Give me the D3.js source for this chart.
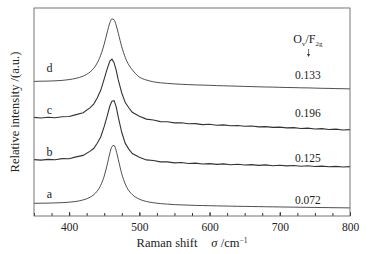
<!DOCTYPE html>
<html>
<head>
<meta charset="utf-8">
<script src="https://cdn.jsdelivr.net/npm/d3@7"></script>
<style>
  body { margin: 0; background: #fff; }
  text { font-family: "Liberation Serif", "Times New Roman", serif; fill: #222; }
</style>
</head>
<body>
<div id="chart"></div>
<script>
// Raman shift sample points (cm-1)
const shifts = [350, 360, 370, 380, 390, 400, 410, 420, 430, 435, 440, 445, 450, 454, 458, 461, 464, 467, 470, 475, 480, 485, 490,
  500, 510, 520, 530, 540, 550, 560, 570, 580, 590, 600, 610, 620, 630, 640, 650, 660, 670, 680, 690, 700,
  710, 720, 730, 740, 750, 760, 770, 780, 790, 800];

// Intensities (a.u., already offset like the stacked plot)
const specA = [12.7, 12.8, 12.9, 13.1, 13.35, 13.8, 14.6, 16.1, 18.8, 21.2, 24.9, 30.7, 39.9, 50.6, 62.7, 69.5, 70.6, 65.4, 56.6, 42.1, 31.9, 25.4, 21.4,
  16.8, 14.55, 13.25, 12.4, 11.85, 11.4, 11.1, 10.85, 10.6, 10.45, 10.3, 10.1, 10.0, 9.85, 9.7, 9.6, 9.5, 9.4, 9.25, 9.15, 9.05,
  8.95, 8.85, 8.75, 8.65, 8.55, 8.45, 8.37, 8.28, 8.2, 8.1];
const specB = [56.4, 55.9, 56.6, 56.3, 57.4, 57.3, 59.1, 60.6, 64.9, 67.5, 72.7, 79.0, 89.6, 99.3, 110.0, 114.9, 115.4, 109.4, 98.8, 83.5, 72.6, 66.9, 62.4,
  58.8, 56.1, 55.5, 54.1, 54.1, 53.1, 53.5, 52.5, 52.9, 52.0, 52.4, 51.6, 52.1, 51.3, 51.7, 51.0, 51.4, 50.6, 51.1, 50.3, 50.8,
  50.1, 50.5, 49.8, 50.2, 49.5, 49.9, 49.3, 49.6, 49.0, 49.4];
const specC = [98.6, 98.0, 98.7, 98.3, 99.3, 99.5, 101.4, 103.2, 108.4, 111.9, 118.0, 125.7, 137.2, 146.7, 155.0, 156.8, 153.3, 145.8, 136.1, 123.0, 113.4, 108.2, 103.7,
  99.8, 96.9, 96.0, 94.4, 94.3, 93.1, 93.3, 92.2, 92.4, 91.4, 91.7, 90.8, 91.1, 90.3, 90.5, 89.7, 90.0, 89.1, 89.4, 88.6, 88.9,
  88.1, 88.4, 87.5, 87.9, 87.0, 87.4, 86.5, 86.9, 86.0, 86.4];
const specD = [134.6, 134.8, 134.9, 135.2, 135.6, 136.4, 137.7, 139.9, 144.1, 147.7, 153.0, 160.8, 172.0, 183.0, 193.1, 197.1, 196.2, 190.8, 182.8, 169.1, 158.5, 151.1, 146.1,
  139.0, 136.0, 134.2, 133.2, 132.6, 132.1, 131.7, 131.4, 131.1, 130.9, 130.7, 130.4, 130.2, 130.0, 129.8, 129.6, 129.4, 129.2, 129.0, 128.9, 128.7,
  128.5, 128.4, 128.2, 128.1, 127.9, 127.7, 127.6, 127.4, 127.3, 127.1];

const sampleNames = ['a', 'b', 'c', 'd'];
const ratios = ['0.072', '0.125', '0.196', '0.133'];
const spectra = [specA, specB, specC, specD];
// where the letter / ratio labels sit (intensity units)
const letterPos = [18, 60, 102, 144];
const ratioPos = [12, 54, 99, 137];

const xTicks = [400, 500, 600, 700, 800];

const width = 371, height = 254;
const margin = { top: 8, right: 21, bottom: 38, left: 34 };
const w = width - margin.left - margin.right;
const h = height - margin.top - margin.bottom;

const svg = d3.select('#chart').append('svg')
  .attr('width', width)
  .attr('height', height);

const x = d3.scaleLinear().domain([350, 800]).range([0, w]);
const y = d3.scaleLinear().domain([0, 208]).range([h, 0]);

const g = svg.append('g').attr('transform', `translate(${margin.left},${margin.top})`);

// curves: smooth ones (a, d) and noisy ones (b, c)
const smoothLine = d3.line()
  .x((d, i) => x(shifts[i]))
  .y(d => y(d))
  .curve(d3.curveMonotoneX);
const noisyLine = d3.line()
  .x((d, i) => x(shifts[i]))
  .y(d => y(d));

g.selectAll('path.spec')
  .data(spectra)
  .enter()
  .append('path')
  .attr('class', 'spec')
  .attr('d', (d, i) => (i === 1 || i === 2) ? noisyLine(d) : smoothLine(d))
  .attr('fill', 'none')
  .attr('stroke', (d, i) => (i === 1 || i === 2) ? '#333' : '#222')
  .attr('stroke-width', (d, i) => (i === 1 || i === 2) ? 1.1 : 0.8);

// bottom axis, ticks inward
const minorTicks = d3.range(350, 801, 25);
g.append('g')
  .attr('transform', `translate(0,${h})`)
  .call(d3.axisBottom(x).tickValues(minorTicks).tickSize(-3).tickFormat(''))
  .call(a => a.select('.domain').remove())
  .call(a => a.selectAll('line').attr('stroke', '#333'));

g.append('g')
  .attr('transform', `translate(0,${h})`)
  .call(d3.axisBottom(x).tickValues(xTicks).tickSize(-4).tickPadding(7).tickFormat(d3.format('d')))
  .call(a => a.select('.domain').remove())
  .call(a => a.selectAll('line').attr('stroke', '#333'))
  .call(a => a.selectAll('text').style('font-family', '"Liberation Serif", serif').style('font-size', '11.5px').attr('fill', '#222'));

// frame
g.append('rect')
  .attr('width', w)
  .attr('height', h)
  .attr('fill', 'none')
  .attr('stroke', '#666')
  .attr('stroke-width', 0.9);

// letters
g.selectAll('text.lab')
  .data(sampleNames)
  .enter()
  .append('text')
  .attr('class', 'lab')
  .attr('x', x(372))
  .attr('y', (d, i) => y(letterPos[i]))
  .attr('text-anchor', 'middle')
  .style('font-size', '12px')
  .text(d => d);

// ratios
g.selectAll('text.ratio')
  .data(ratios)
  .enter()
  .append('text')
  .attr('class', 'ratio')
  .attr('x', x(740))
  .attr('y', (d, i) => y(ratioPos[i]))
  .attr('text-anchor', 'middle')
  .style('font-size', '11.5px')
  .text(d => d);

// Ov/F2g header with arrow
const head = g.append('text')
  .attr('x', x(740))
  .attr('y', 35)
  .attr('text-anchor', 'middle')
  .style('font-size', '12px');
head.append('tspan').text('O');
head.append('tspan').attr('dy', 3).style('font-size', '7px').text('v');
head.append('tspan').attr('dy', -3).text('/F');
head.append('tspan').attr('dy', 3).style('font-size', '7px').text('2g');

g.append('line')
  .attr('x1', x(741)).attr('x2', x(741))
  .attr('y1', 41).attr('y2', 47)
  .attr('stroke', '#333').attr('stroke-width', 0.7);
g.append('path')
  .attr('d', `M${x(741) - 1.5},${46} L${x(741) + 1.5},${46} L${x(741)},${49} Z`)
  .attr('fill', '#333');

// axis titles
const xt = svg.append('text')
  .attr('x', margin.left + x(575))
  .attr('y', 247)
  .attr('text-anchor', 'middle')
  .style('font-size', '12.5px');
xt.append('tspan').text('Raman shift');
xt.append('tspan').attr('dx', 14).style('font-style', 'italic').text('σ');
xt.append('tspan').text(' /cm');
xt.append('tspan').attr('dy', -4).style('font-size', '7.5px').text('−1');

svg.append('text')
  .attr('transform', `translate(19,${margin.top + h / 2}) rotate(-90)`)
  .attr('text-anchor', 'middle')
  .style('font-size', '12.5px')
  .text('Relative intensity /(a.u.)');
</script>
</body>
</html>
